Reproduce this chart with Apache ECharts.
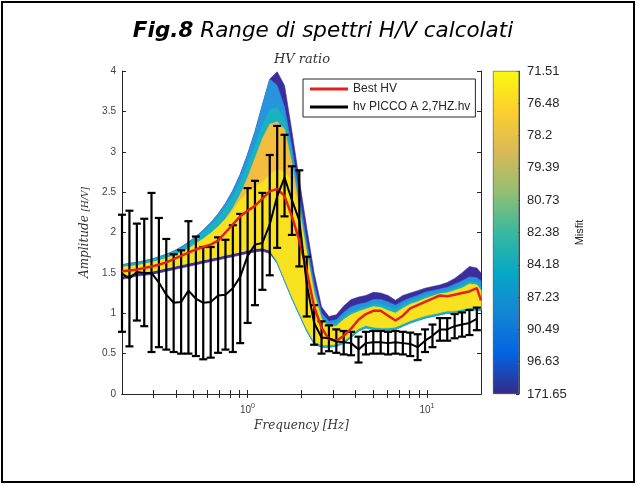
<!DOCTYPE html>
<html>
<head>
<meta charset="utf-8">
<script src="https://cdn.jsdelivr.net/npm/echarts@6/dist/echarts.min.js"></script>
<style>
html,body{margin:0;padding:0;background:#fff;}
#chart{width:637px;height:485px;}
</style>
</head>
<body>
<div id="chart"></div>
<script>
// ---------- DATA ----------
// measured H/V (error bars) frequencies [Hz]
const freq = [0.200,0.220,0.242,0.266,0.292,0.321,0.353,0.388,0.427,0.469,
  0.516,0.567,0.624,0.686,0.754,0.829,0.911,1.002,1.101,1.211,
  1.331,1.464,1.609,1.769,1.945,2.139,2.352,2.586,2.843,3.126,
  3.437,3.779,4.155,4.568,5.023,5.523,6.072,6.676,7.341,8.071,
  8.874,9.757,10.73,11.80,12.97,14.26,15.68,17.24,18.96];
const hvMean = [1.49,1.43,1.51,1.50,1.50,1.38,1.23,1.13,1.14,1.28,
  1.18,1.13,1.14,1.22,1.23,1.31,1.45,1.71,1.85,1.87,
  2.10,2.45,2.68,2.40,2.15,1.36,0.88,0.70,0.69,0.65,
  0.64,0.63,0.55,0.63,0.64,0.64,0.63,0.64,0.63,0.62,
  0.58,0.66,0.72,0.80,0.80,0.84,0.86,0.88,0.93];
const hvLow = [0.77,0.59,0.91,0.84,0.52,0.58,0.55,0.52,0.50,0.50,
  0.47,0.43,0.45,0.51,0.55,0.52,0.63,0.88,1.10,1.29,
  1.47,1.81,2.20,1.97,1.58,0.96,0.61,0.50,0.53,0.51,
  0.49,0.48,0.39,0.49,0.50,0.50,0.49,0.50,0.49,0.47,
  0.42,0.52,0.58,0.66,0.66,0.69,0.71,0.73,0.79];
const hvHigh = [2.22,2.27,2.11,2.17,2.49,2.18,1.92,1.73,1.78,2.14,
  1.95,1.82,1.82,1.94,1.91,2.09,2.23,2.55,2.64,2.49,
  2.96,3.32,3.21,2.82,2.77,1.70,1.10,0.90,0.85,0.80,
  0.78,0.77,0.71,0.77,0.78,0.78,0.77,0.78,0.77,0.76,
  0.74,0.80,0.86,0.94,0.94,0.99,1.01,1.04,1.07];

// model curves frequencies [Hz]
const modelFreq = [0.200,0.220,0.242,0.266,0.292,0.321,0.353,0.388,0.427,0.469,
  0.516,0.567,0.624,0.686,0.754,0.829,0.911,1.002,1.101,1.211,
  1.331,1.464,1.609,1.769,1.945,2.139,2.352,2.586,2.843,3.126,
  3.437,3.779,4.155,4.568,5.023,5.523,6.072,6.676,7.341,8.071,
  8.874,9.757,10.73,11.80,12.97,14.26,15.68,17.24,18.96,20.0];
const bestHV = [1.52,1.53,1.54,1.56,1.58,1.60,1.63,1.67,1.71,1.75,
  1.79,1.82,1.85,1.90,2.00,2.10,2.20,2.27,2.33,2.42,
  2.51,2.54,2.45,2.20,1.90,1.52,1.08,0.82,0.68,0.66,
  0.72,0.81,0.92,0.99,1.03,1.03,0.97,0.91,0.97,1.06,
  1.10,1.14,1.18,1.22,1.21,1.23,1.25,1.27,1.31,1.16];

// envelopes of the model families, from worst misfit (blue) to best (yellow)
const upperWorst = [1.60,1.62,1.63,1.65,1.67,1.70,1.73,1.77,1.82,1.88,
  1.95,2.03,2.12,2.23,2.36,2.52,2.72,2.97,3.25,3.58,
  3.90,3.99,3.82,3.25,2.65,2.06,1.50,1.08,0.96,0.98,
  1.09,1.17,1.20,1.22,1.26,1.25,1.22,1.16,1.22,1.25,
  1.28,1.31,1.33,1.35,1.38,1.43,1.50,1.58,1.56,1.50];
const upperBlue = [1.60,1.62,1.63,1.65,1.67,1.70,1.73,1.77,1.82,1.88,
  1.95,2.03,2.12,2.23,2.36,2.52,2.72,2.97,3.25,3.58,
  3.90,3.82,3.55,3.05,2.45,1.88,1.36,1.00,0.90,0.92,
  1.01,1.08,1.11,1.13,1.17,1.17,1.14,1.10,1.15,1.19,
  1.22,1.26,1.28,1.30,1.32,1.36,1.40,1.45,1.44,1.40];
const upperCyan = [1.59,1.61,1.62,1.64,1.66,1.69,1.72,1.76,1.80,1.86,
  1.93,2.01,2.09,2.19,2.31,2.45,2.63,2.84,3.08,3.33,
  3.52,3.55,3.40,2.95,2.35,1.80,1.30,0.96,0.86,0.88,
  0.96,1.02,1.05,1.08,1.12,1.11,1.08,1.05,1.10,1.15,
  1.18,1.22,1.24,1.26,1.28,1.31,1.35,1.39,1.38,1.33];
const upperOrange = [1.57,1.58,1.59,1.61,1.63,1.65,1.68,1.71,1.75,1.80,
  1.86,1.92,1.99,2.07,2.17,2.30,2.47,2.68,2.92,3.16,
  3.34,3.37,3.28,2.85,2.30,1.75,1.25,0.93,0.83,0.84,
  0.92,0.98,1.02,1.05,1.08,1.07,1.03,1.00,1.06,1.11,
  1.14,1.18,1.21,1.24,1.25,1.28,1.31,1.36,1.35,1.28];
const upperYellow = [1.57,1.58,1.59,1.61,1.63,1.65,1.68,1.71,1.75,1.80,
  1.86,1.92,1.99,2.07,2.16,2.27,2.40,2.50,2.57,2.62,
  2.72,2.78,2.75,2.65,2.25,1.72,1.22,0.92,0.82,0.84,
  0.92,0.98,1.02,1.05,1.08,1.07,1.03,1.00,1.06,1.11,
  1.14,1.18,1.21,1.24,1.25,1.28,1.31,1.36,1.35,1.28];
const lowerWorst = [1.42,1.44,1.46,1.47,1.48,1.50,1.52,1.54,1.56,1.58,
  1.60,1.62,1.64,1.66,1.68,1.70,1.72,1.74,1.76,1.77,
  1.74,1.62,1.40,1.18,0.98,0.78,0.62,0.58,0.58,0.59,
  0.63,0.70,0.78,0.82,0.80,0.79,0.79,0.80,0.84,0.88,
  0.91,0.94,0.96,0.98,1.00,1.00,1.02,1.04,1.04,1.03];
const lowerBlue = [1.46,1.48,1.50,1.51,1.52,1.54,1.56,1.58,1.60,1.62,
  1.64,1.66,1.68,1.70,1.72,1.74,1.76,1.78,1.80,1.81,
  1.78,1.62,1.40,1.18,0.98,0.78,0.62,0.58,0.58,0.59,
  0.63,0.70,0.78,0.82,0.80,0.79,0.79,0.80,0.84,0.88,
  0.91,0.94,0.96,0.98,1.00,1.00,1.02,1.04,1.04,1.03];
const lowerYellow = [1.46,1.48,1.50,1.51,1.52,1.54,1.56,1.58,1.60,1.62,
  1.64,1.66,1.68,1.70,1.72,1.74,1.76,1.78,1.80,1.81,
  1.78,1.65,1.43,1.21,1.01,0.81,0.65,0.61,0.61,0.62,
  0.66,0.73,0.81,0.85,0.83,0.82,0.82,0.83,0.87,0.91,
  0.94,0.97,0.99,1.01,1.03,1.03,1.05,1.07,1.07,1.06];

// tick labels
const xMajorTicks = [1, 10];
const xMajorExp = ['0', '1'];
const xTickValues = [0.3,0.4,0.5,0.6,0.7,0.8,0.9,1,2,3,4,5,6,7,8,9,10];
const misfitLabels = ['71.51','76.48','78.2','79.39','80.73','82.38','84.18','87.23','90.49','96.63','171.65'];

// ---------- CHART ----------
const chart = echarts.init(document.getElementById('chart'), null, {renderer:'canvas'});
const axisCol = '#262626';
const txtCol = '#404040';

function band(name, upper, lower, color) {
  return {
    type: 'custom', name: name, xAxisIndex: 0, yAxisIndex: 0, silent: true,
    data: modelFreq.map((f, i) => [f, upper[i], lower[i]]),
    encode: {x: 0, y: [1, 2]},
    renderItem: function (params, api) {
      if (params.dataIndex !== 0) return null;
      const pts = [];
      for (let i = 0; i < modelFreq.length; i++) pts.push(api.coord([modelFreq[i], upper[i]]));
      for (let i = modelFreq.length - 1; i >= 0; i--) pts.push(api.coord([modelFreq[i], lower[i]]));
      return {type: 'polygon', shape: {points: pts}, style: {fill: color, stroke: color, lineWidth: 0.6}};
    }
  };
}

const parula = [
  {offset: 0.000, color: '#f9fb0e'},
  {offset: 0.125, color: '#fcce2e'},
  {offset: 0.250, color: '#d9ba56'},
  {offset: 0.375, color: '#92bf73'},
  {offset: 0.500, color: '#38b99e'},
  {offset: 0.625, color: '#06a7c6'},
  {offset: 0.750, color: '#1485d4'},
  {offset: 0.875, color: '#0363e1'},
  {offset: 1.000, color: '#352a87'}
];

const logAxisBase = {
  type: 'log', logBase: 10, min: 0.2, max: 20, gridIndex: 0,
  axisLine: {show: true, lineStyle: {color: axisCol, width: 1}},
  splitLine: {show: false}, minorTick: {show: false}, minorSplitLine: {show: false}
};

const option = {
  animation: false,
  backgroundColor: '#fff',
  textStyle: {fontFamily: 'Liberation Sans'},
  grid: [
    {left: 122, top: 71, width: 359, height: 323},
    {left: 493, top: 71, width: 26, height: 323}
  ],
  graphic: [
    {type: 'text', x: 323, y: 31, z: 10,
      style: {text: '{b|Fig.8}{i| Range di spettri H/V calcolati}',
        textAlign: 'center', textVerticalAlign: 'middle',
        rich: {
          b: {fontFamily: 'DejaVu Sans', fontWeight: 'bold', fontStyle: 'italic', fontSize: 21.5, fill: '#000'},
          i: {fontFamily: 'DejaVu Sans', fontStyle: 'italic', fontSize: 21.5, fill: '#000'}
        }}},
    {type: 'text', x: 302, y: 60, z: 10,
      style: {text: 'HV ratio', font: 'italic 13px "DejaVu Serif"', fill: '#333',
        textAlign: 'center', textVerticalAlign: 'middle'}},
    {type: 'rect', z: 100, shape: {x: 2, y: 2, width: 632, height: 480},
      style: {fill: 'none', stroke: '#000', lineWidth: 2}}
  ],
  legend: {
    data: ['Best HV', 'hv PICCO A 2,7HZ.hv'],
    orient: 'vertical', left: 303, top: 79,
    padding: [4, 5, 4, 7], itemGap: 6, itemWidth: 38, itemHeight: 3, icon: 'rect',
    backgroundColor: '#fff', borderColor: axisCol, borderWidth: 1, borderRadius: 0,
    textStyle: {fontFamily: 'Liberation Sans', fontSize: 12, color: '#262626'},
    selectedMode: false
  },
  xAxis: [
    Object.assign({}, logAxisBase, {
      position: 'bottom',
      axisTick: {show: true, inside: true, length: 4, customValues: xTickValues, lineStyle: {color: axisCol}},
      axisLabel: {show: true, customValues: xMajorTicks, margin: 9, color: txtCol,
        formatter: function (v) { const k = xMajorTicks.indexOf(v); return k < 0 ? '' : '{b|10}{s|' + xMajorExp[k] + '}'; },
        rich: {b: {fontSize: 10, color: txtCol, fontFamily: 'Liberation Sans'},
               s: {fontSize: 7, color: txtCol, fontFamily: 'Liberation Sans', padding: [0, 0, 7, 0]}}},
      name: 'Frequency [Hz]', nameLocation: 'middle', nameGap: 25,
      nameTextStyle: {fontFamily: 'DejaVu Serif', fontStyle: 'italic', fontSize: 12, color: '#333'}
    }),
    Object.assign({}, logAxisBase, {
      position: 'top',
      axisTick: {show: true, inside: true, length: 4, customValues: xTickValues, lineStyle: {color: axisCol}},
      axisLabel: {show: false}
    }),
    {type: 'category', gridIndex: 1, data: ['c'], show: false}
  ],
  yAxis: [
    {type: 'value', gridIndex: 0, min: 0, max: 4, interval: 0.5, position: 'left',
      axisLine: {show: true, lineStyle: {color: axisCol}},
      axisTick: {show: true, inside: true, length: 4, lineStyle: {color: axisCol}},
      axisLabel: {fontSize: 10, color: txtCol, margin: 6},
      splitLine: {show: false},
      name: '{a|Amplitude }{f|[H/V]}', nameLocation: 'middle', nameGap: 24, nameRotate: 90,
      nameTextStyle: {color: '#333',
        rich: {a: {fontFamily: 'DejaVu Serif', fontStyle: 'italic', fontSize: 12, color: '#333'},
               f: {fontFamily: 'DejaVu Serif', fontStyle: 'italic', fontSize: 9, color: '#333'}}}},
    {type: 'value', gridIndex: 0, min: 0, max: 4, interval: 0.5, position: 'right',
      axisLine: {show: true, lineStyle: {color: axisCol}},
      axisTick: {show: true, inside: true, length: 4, lineStyle: {color: axisCol}},
      axisLabel: {show: false}, splitLine: {show: false}},
    {type: 'value', gridIndex: 1, min: 0, max: 10, interval: 1, position: 'right',
      axisLine: {show: true, lineStyle: {color: axisCol, width: 0.8}},
      axisTick: {show: true, inside: true, length: 3, lineStyle: {color: axisCol}},
      axisLabel: {fontSize: 13, color: '#262626', margin: 8,
        formatter: function (v) { return misfitLabels[10 - Math.round(v)]; }},
      splitLine: {show: false},
      name: 'Misfit', nameLocation: 'middle', nameRotate: 90, nameGap: 55,
      nameTextStyle: {fontSize: 11, color: '#262626', fontFamily: 'Liberation Sans'}}
  ],
  series: [
    band('worst', upperWorst, lowerWorst, '#3b2d9c'),
    band('blue', upperBlue, lowerBlue, '#2794dd'),
    band('cyan', upperCyan, lowerBlue, '#19b2c0'),
    band('orange', upperOrange, lowerYellow, '#f4bd3e'),
    band('yellow', upperYellow, lowerYellow, '#f8e11f'),
    {type: 'line', name: 'Best HV', xAxisIndex: 0, yAxisIndex: 0,
      data: modelFreq.map((f, i) => [f, bestHV[i]]),
      symbol: 'none', lineStyle: {color: '#e3211c', width: 2.5}, itemStyle: {color: '#e3211c'}},
    {type: 'line', name: 'hv PICCO A 2,7HZ.hv', xAxisIndex: 0, yAxisIndex: 0,
      data: freq.map((f, i) => [f, hvMean[i]]),
      symbol: 'none', lineStyle: {color: '#000', width: 2}, itemStyle: {color: '#000'}},
    {type: 'custom', name: 'errorbars', xAxisIndex: 0, yAxisIndex: 0, silent: true,
      data: freq.map((f, i) => [f, hvLow[i], hvHigh[i]]),
      encode: {x: 0, y: [1, 2]},
      renderItem: function (params, api) {
        const f = api.value(0);
        const lo = api.coord([f, api.value(1)]);
        const hi = api.coord([f, api.value(2)]);
        const w = 4, st = {stroke: '#000', lineWidth: 2.2};
        return {type: 'group', children: [
          {type: 'line', shape: {x1: lo[0], y1: lo[1], x2: hi[0], y2: hi[1]}, style: st},
          {type: 'line', shape: {x1: lo[0] - w, y1: lo[1], x2: lo[0] + w, y2: lo[1]}, style: st},
          {type: 'line', shape: {x1: hi[0] - w, y1: hi[1], x2: hi[0] + w, y2: hi[1]}, style: st}
        ]};
      }},
    {type: 'bar', xAxisIndex: 2, yAxisIndex: 2, data: [10], barWidth: '100%', silent: true,
      itemStyle: {color: {type: 'linear', x: 0, y: 0, x2: 0, y2: 1, colorStops: parula},
        borderColor: axisCol, borderWidth: 0.5}}
  ]
};
chart.setOption(option);
</script>
</body>
</html>
